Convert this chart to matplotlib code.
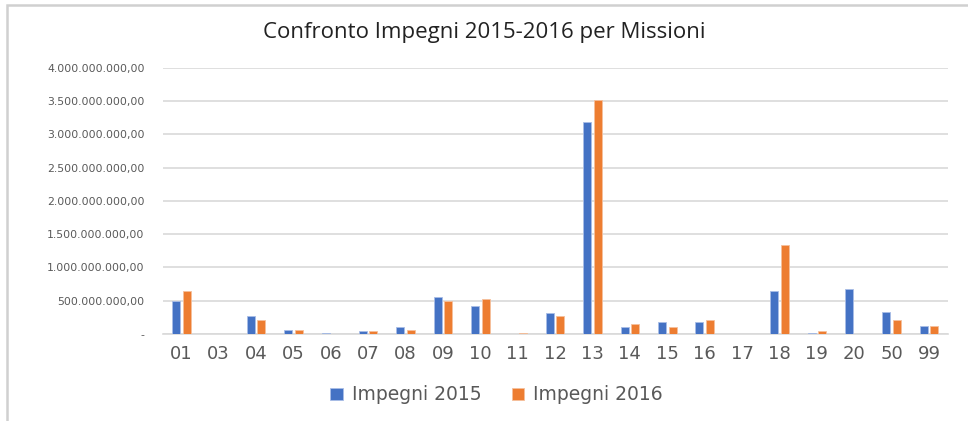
import matplotlib
matplotlib.use("Agg")
import matplotlib.pyplot as plt
import numpy as np
from matplotlib.ticker import FuncFormatter, MultipleLocator
from matplotlib.patches import Rectangle

# Missioni (categories) and commitments in euro
missioni = ["01", "03", "04", "05", "06", "07", "08", "09", "10", "11", "12",
            "13", "14", "15", "16", "17", "18", "19", "20", "50", "99"]
impegni_2015 = [490e6, 0, 275e6, 65e6, 20e6, 40e6, 110e6, 556e6, 415e6, 0, 316e6,
                3190e6, 105e6, 180e6, 180e6, 0, 651e6, 15e6, 677e6, 335e6, 120e6]
impegni_2016 = [651e6, 0, 205e6, 65e6, 0, 40e6, 65e6, 500e6, 530e6, 15e6, 275e6,
                3520e6, 145e6, 105e6, 205e6, 0, 1343e6, 50e6, 0, 215e6, 120e6]

BLUE = "#4472C4"
ORANGE = "#ED7D31"
GRID = "#D9D9D9"
TXT = "#595959"


def euro_fmt(v, pos):
    if v == 0:
        return "-"
    s = f"{int(round(v)):,}".replace(",", ".")
    return s + ",00"


fig = plt.figure(figsize=(9.68, 4.21), dpi=100)
ax = fig.add_axes([0.168, 0.2067, 0.811, 0.6318])

x = np.arange(len(missioni))
w = 0.215
off = 0.14
ax.bar(x - off, impegni_2015, width=w, color=BLUE, edgecolor="#A9BDE6",
       linewidth=0.6, label="Impegni 2015", zorder=3)
ax.bar(x + off, impegni_2016, width=w, color=ORANGE, edgecolor="#F6C09C",
       linewidth=0.6, label="Impegni 2016", zorder=3)

ax.set_xlim(-0.5, len(missioni) - 0.5)
ax.set_ylim(0, 4e9)
ax.yaxis.set_major_locator(MultipleLocator(5e8))
ax.yaxis.set_major_formatter(FuncFormatter(euro_fmt))
ax.grid(axis="y", color=GRID, linewidth=1.2, zorder=0)
for s in ["top", "right", "left"]:
    ax.spines[s].set_visible(False)
ax.spines["bottom"].set_color(GRID)
ax.spines["bottom"].set_linewidth(1.2)

ax.set_xticks(x)
ax.set_xticklabels(missioni, fontsize=13, color=TXT, family="DejaVu Sans")
ax.tick_params(axis="x", length=0, pad=8)
ax.tick_params(axis="y", length=0, pad=13, labelsize=7.8, labelcolor=TXT)
for lab in ax.get_yticklabels():
    lab.set_family("DejaVu Sans")

fig.text(0.5, 0.922, "Confronto Impegni 2015-2016 per Missioni", ha="center",
         va="center", fontsize=16, color="#222222", family="Open Sans")

leg = fig.legend(loc="center", bbox_to_anchor=(0.513, 0.062), ncol=2, frameon=False,
                 prop={"family": "DejaVu Sans", "size": 13.5}, handlelength=0.65,
                 handleheight=0.65, columnspacing=1.6, handletextpad=0.5)
for t in leg.get_texts():
    t.set_color(TXT)

# light outer frame of the chart area
fig.patches.append(Rectangle((0.0075, -0.01), 1.2, 0.997, transform=fig.transFigure,
                             fill=False, edgecolor="#D0D0D0", linewidth=1.8))

fig.savefig("out.png", dpi=100, facecolor="white")
